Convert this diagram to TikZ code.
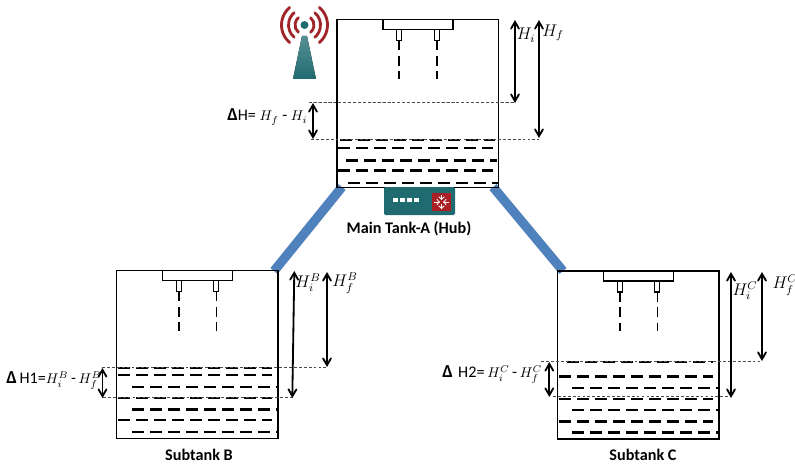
\documentclass[tikz,border=0pt]{standalone}
\usepackage{fontspec}
\setmainfont{Carlito}
\usepackage{amsmath}
\usetikzlibrary{arrows,positioning,calc}
\definecolor{pipeblue}{HTML}{4F81BD}
\definecolor{towerteal}{HTML}{1F6B70}
\definecolor{waverd}{HTML}{A02428}
\tikzset{
water/.style={line width=1.6pt,dash pattern=on 8.5pt off 4.3pt},
level/.style={line width=0.45pt,dash pattern=on 2pt off 1.5pt,black!70},
height/.style={>=angle 60,<->,line width=1.3pt},
pipe/.style={pipeblue,line width=6.6pt},
wave/.style={waverd,line width=2pt,line cap=round},
title/.style={font=\fontsize{11.5}{13}\selectfont\bfseries},
eqn/.style={font=\fontsize{12}{14}\selectfont,inner sep=0pt},
eqnlong/.style={font=\fontsize{11.5}{13}\selectfont,inner sep=0pt,right}
}
\newcommand{\Tank}[2]{
\draw [line width=1.1pt] (#1,#2) rectangle ++(161.5,168);
\draw [line width=0.9pt] (#1+46,#2) rectangle ++(70,10);
\foreach \nx in {62.3,99.7}{
\draw [line width=0.8pt] (#1+\nx-2.5,#2+10) rectangle ++(5,11);
\draw [line width=1.2pt,dash pattern=on 6.8pt off 4.2pt] (#1+\nx,#2+21) -- (#1+\nx,#2+60);
}
}
\newcommand{\Water}[3]{
\draw [water] (#1,#3) -- (#2,#3);
}
\newcommand{\Dl}{{\fontsize{13}{14}\selectfont\bfseries Δ}}
\newcommand{\Mh}[1]{{\fontsize{10}{12}\selectfont$#1$}}
\begin{document}
\begin{tikzpicture}[x=0.025cm,y=-0.025cm]
\useasboundingbox (0,0) rectangle (795,466);
% pipes
\draw [pipe] (342,187) -- (274,271);
\draw [pipe] (493,187) -- (563,271);
% tanks
\Tank{337}{19.5}
\Tank{116.7}{270.5}
\Tank{557.7}{271}
% water of main tank
\Water{340}{495}{140}
\Water{338}{493}{148}
\Water{346}{497}{160.5}
\Water{338}{493}{170.5}
\Water{348}{498}{183}
% water of subtank B
\foreach \wy/\wa/\wb in {367.7/118/272,375/118/272,387/132/278,398/118/272,409.5/132/278,420/118/272,432/132/278}
\Water{\wa}{\wb}{\wy}
% water of subtank C
\foreach \wy/\wa/\wb in {361.7/567/713,376.5/559/713,388/572/718,399/559/713,410/572/718,421.5/559/713,432.5/572/718}
\Water{\wa}{\wb}{\wy}
% levels
\draw [level] (309,102.5) -- (515,102.5);
\draw [level] (311,139) -- (539,139);
\draw [level] (102,367.7) -- (327,367.7);
\draw [level] (103,397.7) -- (292.3,397.7);
\draw [level] (541,361.7) -- (762,361.7);
\draw [level] (553,396) -- (731,396);
% heights
\draw [height] (515,20) -- (515,103);
\draw [height] (539,20) -- (539,138);
\draw [height] (313,103) -- (313,139);
\draw [height] (294.3,271) -- (292.3,398);
\draw [height] (327,272) -- (327,367);
\draw [height] (102.5,368) -- (102.5,398);
\draw [height] (731,272) -- (731,398);
\draw [height] (762,272) -- (762,361);
\draw [height] (549.3,362) -- (549.3,397);
% labels
\node [eqn] (hi) at (526,35) {$H_i$};
\node [eqn] (hf) at (553,33) {$H_f$};
\node [eqnlong] (dh) at (227,117) {\Dl H= \Mh{H_f} - \Mh{H_i}};
\node [eqn] (hib) at (308,283) {$H_i^B$};
\node [eqn] (hfb) at (345,283) {$H_f^B$};
\node [eqnlong] (dhb) at (6,381) {\Dl\,H1=\Mh{H_i^B}\,-\,\Mh{H_f^B}};
\node [eqn] (hic) at (745,291) {$H_i^C$};
\node [eqn] (hfc) at (785,285) {$H_f^C$};
\node [eqnlong] (dhc) at (442,375) {\Dl\,\,H2=\,\Mh{H_i^C}\,-\,\Mh{H_f^C}};
\node [title] (tanka) at (409,229) {Main Tank-A (Hub)};
\node [title] (tankb) at (199,455) {Subtank B};
\node [title] (tankc) at (643,455) {Subtank C};
% tower
\fill [top color=towerteal!75!white,bottom color=towerteal] (302,36) -- (307,36) -- (316,79) -- (293,79) -- cycle;
\fill [towerteal] (304.5,25) circle (4);
\foreach \rr in {9.5,16,23}{
\draw [wave] ($(304.5,25)+(-50:\rr)$) arc[start angle=-50,end angle=50,radius=\rr];
\draw [wave] ($(304.5,25)+(130:\rr)$) arc[start angle=130,end angle=230,radius=\rr];
}
% hub
\fill [towerteal,rounded corners=1pt] (384,187) rectangle (455,215);
\fill [waverd!90!red] (432,193) rectangle (451,211);
\foreach \dx in {393,400,407,414}{
\fill [white] (\dx,198) rectangle ++(5,4);
}
\draw [->,white,line width=0.7pt] (434,202) -- (440,202);
\draw [->,white,line width=0.7pt] (449,202) -- (443,202);
\draw [->,white,line width=0.7pt] (441.5,195) -- (441.5,200);
\draw [->,white,line width=0.7pt] (441.5,204) -- (441.5,209);
\end{tikzpicture}
\end{document}
